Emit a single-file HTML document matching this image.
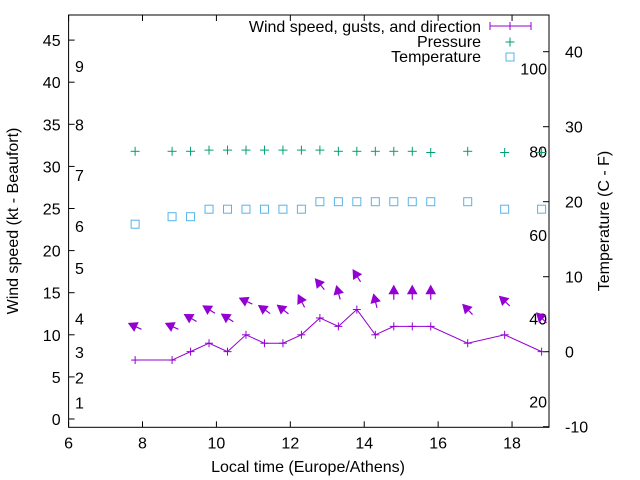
<!DOCTYPE html>
<html><head><meta charset="utf-8"><style>
body{margin:0;background:#fff}
svg{display:block;font-family:"Liberation Sans",sans-serif}
</style></head><body>
<svg id="c" width="640" height="480" viewBox="0 0 640 480"></svg>
<script>
const times=[7.8,8.8,9.3,9.8,10.3,10.8,11.3,11.8,12.3,12.8,13.3,13.8,14.3,14.8,15.3,15.8,16.8,17.8,18.8];
const windSpeed=[7,7,8,9,8,10,9,9,10,12,11,13,10,11,11,11,9,10,8];
const gusts=[11,11,12,13,12,14,13,13,14,16,15,17,14,15,15,15,13,14,12];
const windDirDeg=[155,155,150,148,147,155,145,142,117,130,105,122,104,90,90,90,134,137,135];
const pressure=[1013,1013,1013,1014,1014,1014,1014,1014,1014,1014,1013,1013,1013,1013,1013,1012,1013,1012,1012];
const temperature=[17,18,18,19,19,19,19,19,19,20,20,20,20,20,20,20,20,19,19];
const xTicks=[6,8,10,12,14,16,18];
const yTicks=[0,5,10,15,20,25,30,35,40,45];
const y2Ticks=[-10,0,10,20,30,40];
const fahrenheit=[20,40,60,80,100];
const beaufort=[[1,1],[2,4],[3,7],[4,11],[5,17],[6,22],[7,28],[8,34],[9,41]];

const L=68.6,R=549,T=15,B=427.3;
const xs=v=>L+(v-6)*(R-L)/13;
const ys=v=>419-8.42*v;
const y2=v=>351.7-7.5*v;
const yp=p=>151.3-(p-1013)*1.2;
const svg=document.getElementById('c');
const NS='http://www.w3.org/2000/svg';
function el(tag,attrs,parent){const e=document.createElementNS(NS,tag);for(const k in attrs)e.setAttribute(k,attrs[k]);(parent||svg).appendChild(e);return e;}
function txt(x,y,s,anchor,size,parent){const t=el('text',{x:x,y:y,'text-anchor':anchor,'font-size':size||16,fill:'#000'},parent);t.textContent=s;return t;}

const fr=el('rect',{x:L,y:T,width:R-L,height:B-T,fill:'none',stroke:'#000','stroke-width':1});


const xg=el('g',{});
xTicks.forEach(v=>{const x=xs(v);el('line',{x1:x,x2:x,y1:B,y2:B-6,stroke:'#000'},xg);el('line',{x1:x,x2:x,y1:T,y2:T+6,stroke:'#000'},xg);txt(x,B+21,String(v),'middle',16,xg);});
const yg=el('g',{});
yTicks.forEach(v=>{const y=ys(v);el('line',{x1:L,x2:L+6,y1:y,y2:y,stroke:'#000'},yg);txt(L-8,y+6,String(v),'end',16,yg);});
const y2g=el('g',{});
y2Ticks.forEach(v=>{const y=y2(v);el('line',{x1:R,x2:R-6,y1:y,y2:y,stroke:'#000'},y2g);txt(R+16,y+6,String(v),'start',16,y2g);});
const fg=el('g',{});
fahrenheit.forEach(f=>{txt(547,y2((f-32)*5/9)+6,String(f),'end',16,fg);});
const bg=el('g',{});
beaufort.forEach(b=>{txt(75,ys(b[1])-2,String(b[0]),'start',16,bg);});

let t=txt(0,0,'Wind speed (kt - Beaufort)','middle',16);t.setAttribute('transform','translate(18,221) rotate(-90)');

t=txt(0,0,'Temperature (C - F)','middle',16);t.setAttribute('transform','translate(609,221) rotate(-90)');

t=txt(308,472,'Local time (Europe/Athens)','middle',16);


const C='#9400d3',G='#009e73',Bl='#56b4e9';
const wl=el('polyline',{points:times.map((x,i)=>xs(x)+','+ys(windSpeed[i])).join(' '),fill:'none',stroke:C,'stroke-width':1});

function plus(x,y,col,s,g){el('line',{x1:x-s,x2:x+s,y1:y,y2:y,stroke:col},g);el('line',{x1:x,x2:x,y1:y-s,y2:y+s,stroke:col},g);}
times.forEach((tm,i)=>{const g=el('g',{});plus(xs(tm),ys(windSpeed[i]),C,4,g);});
times.forEach((tm,i)=>{
  const g=el('g',{});
  
  
  const a=windDirDeg[i]*Math.PI/180,cx=xs(tm),cy=ys(gusts[i]),h=7;
  const dx=Math.cos(a),dy=-Math.sin(a);
  const hx=cx+dx*h,hy=cy+dy*h,tx=cx-dx*h,ty=cy-dy*h;
  el('line',{x1:tx,y1:ty,x2:hx,y2:hy,stroke:C,'stroke-width':1.2},g);
  const px=-dy,py=dx,bx=hx-dx*8,by=hy-dy*8;
  el('polygon',{points:`${hx},${hy} ${bx+px*4.5},${by+py*4.5} ${bx-px*4.5},${by-py*4.5}`,fill:C,stroke:C},g);
});
times.forEach((tm,i)=>{const g=el('g',{});plus(xs(tm),yp(pressure[i]),G,4.5,g);});
times.forEach((tm,i)=>{const r=el('rect',{x:xs(tm)-4,y:y2(temperature[i])-4,width:8,height:8,fill:'none',stroke:Bl});});

const lg=el('g',{});
txt(481,32,'Wind speed, gusts, and direction','end',16,lg);
el('line',{x1:490,x2:531,y1:26,y2:26,stroke:C},lg);el('line',{x1:490,x2:490,y1:22,y2:30,stroke:C},lg);el('line',{x1:531,x2:531,y1:22,y2:30,stroke:C},lg);plus(510,26,C,4,lg);
txt(481,47,'Pressure','end',16,lg);plus(510,42,G,4.5,lg);
txt(481,62,'Temperature','end',16,lg);el('rect',{x:506,y:53,width:8,height:8,fill:'none',stroke:Bl},lg);
</script>
</body></html>
